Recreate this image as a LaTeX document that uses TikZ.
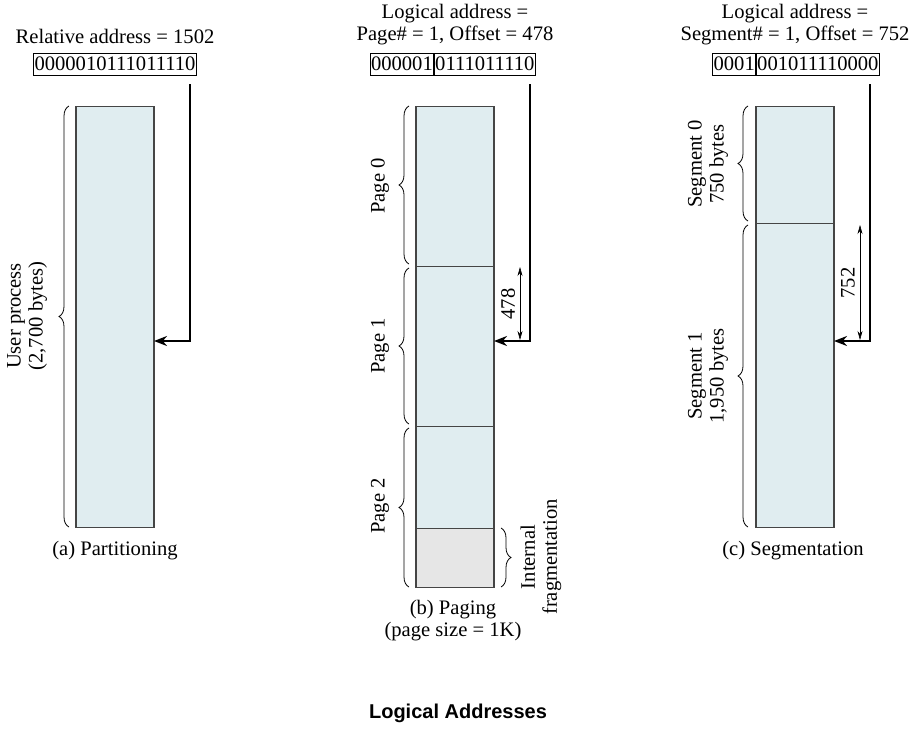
\documentclass[tikz,border=0pt]{standalone}
\usepackage{fontspec}
\setmainfont{Liberation Serif}
\newfontfamily\titlefont{Liberation Sans}
\usepackage{tikz}
\usetikzlibrary{arrows.meta, decorations.pathreplacing, positioning}

\definecolor{memblue}{HTML}{E0EDF0}
\definecolor{fraggray}{HTML}{E6E6E6}
\definecolor{edgegray}{HTML}{454545}

\tikzset{
    memblock/.style={draw=edgegray, line width=1.1pt, fill=memblue, minimum width=78pt, inner sep=0pt, anchor=north},
    bitbox/.style={draw, line width=0.8pt, inner xsep=0.8pt, inner ysep=0pt, minimum height=22pt},
    addrline/.style={line width=2.2pt, -{Stealth[length=13pt, width=10pt]}},
    dimline/.style={line width=0.6pt, {Stealth[length=9pt, width=5pt]}-{Stealth[length=9pt, width=5pt]}},
    curlyb/.style={decorate, decoration={brace, amplitude=10pt}, line width=0.8pt},
    sidelabel/.style={rotate=90, align=center},
}

\begin{document}
\begin{tikzpicture}[x=1pt, y=-1pt, font=\fontsize{20.6}{22}\selectfont]
    \useasboundingbox (0,0) rectangle (917,728);

    % (a) Partitioning
    \node (ahead) at (115,36) {Relative address = 1502};
    \node[bitbox] (abits) at (115,64) {0000010111011110};
    \node[memblock, minimum height=421pt] (mema) at (115,106) {};
    \draw[curlyb] (69,527) -- (69,106);
    \node[sidelabel] (alabel) at (27,316) {User process\\(2,700 bytes)};
    \coordinate (astart) at (190,84);
    \coordinate (ahit) at (154,341);
    \draw[addrline] (astart) |- (ahit);
    \node (acap) at (115,551) {(a) Partitioning};

    % (b) Paging
    \node[align=center] (phead) at (455,25) {Logical address =\\Page\# = 1, Offset = 478};
    \node[bitbox, anchor=east] (pbits) at (434,64) {000001};
    \node[bitbox, right=0pt of pbits] (poff) {0111011110};
    \node[memblock, minimum height=160pt] (page0) at (455,106) {};
    \node[memblock, minimum height=160pt] (page1) at (455,266) {};
    \node[memblock, minimum height=102pt] (page2) at (455,426) {};
    \node[memblock, minimum height=59pt, fill=fraggray] (frag) at (455,528) {};
    \draw[curlyb] (409,264) -- (409,106);
    \draw[curlyb] (409,424) -- (409,268);
    \draw[curlyb] (409,587) -- (409,428);
    \draw[curlyb] (501,528) -- (501,587);
    \node[sidelabel] (p0label) at (380,186) {Page 0};
    \node[sidelabel] (p1label) at (380,346) {Page 1};
    \node[sidelabel] (p2label) at (380,506) {Page 2};
    \node[sidelabel] (fraglabel) at (541,557) {Internal\\fragmentation};
    \coordinate (pstart) at (530,84);
    \coordinate (phit) at (494,341);
    \draw[addrline] (pstart) |- (phit);
    \coordinate (pdtop) at (520,267);
    \coordinate (pdbot) at (520,340);
    \draw[dimline] (pdtop) -- (pdbot);
    \node[rotate=90] (pdist) at (508,304) {478};
    \node[align=center] (pcap) at (453,621) {(b) Paging\\(page size = 1K)};

    % (c) Segmentation
    \node[align=center] (shead) at (795,25) {Logical address =\\Segment\# = 1, Offset = 752};
    \node[bitbox, anchor=east] (sbits) at (756,64) {0001};
    \node[bitbox, right=0pt of sbits] (soff) {001011110000};
    \node[memblock, minimum height=117pt] (seg0) at (795,106) {};
    \node[memblock, minimum height=304pt] (seg1) at (795,223) {};
    \draw[curlyb] (748,221) -- (748,106);
    \draw[curlyb] (748,527) -- (748,225);
    \node[sidelabel] (s0label) at (708,164) {Segment 0\\750 bytes};
    \node[sidelabel] (s1label) at (708,376) {Segment 1\\1,950 bytes};
    \coordinate (sstart) at (870,84);
    \coordinate (shit) at (834,341);
    \draw[addrline] (sstart) |- (shit);
    \coordinate (sdtop) at (860,225);
    \coordinate (sdbot) at (860,340);
    \draw[dimline] (sdtop) -- (sdbot);
    \node[rotate=90] (sdist) at (848,283) {752};
    \node (scap) at (793,551) {(c) Segmentation};

    % Title
    \node[font=\titlefont\bfseries\fontsize{20}{24}\selectfont] (title) at (458,713) {Logical Addresses};
\end{tikzpicture}
\end{document}
